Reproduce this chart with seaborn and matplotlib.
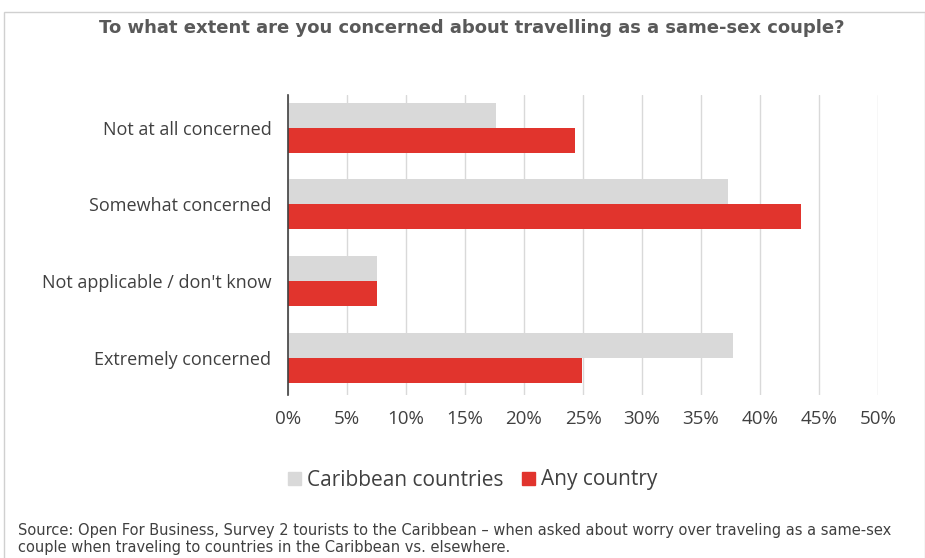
import matplotlib
matplotlib.use("Agg")
import matplotlib.pyplot as plt
from matplotlib.patches import Rectangle
from matplotlib.ticker import FuncFormatter, MultipleLocator
import pandas as pd
import seaborn as sns

categories = ["Not at all concerned", "Somewhat concerned",
              "Not applicable / don't know", "Extremely concerned"]
caribbean = [17.6, 37.3, 7.5, 37.7]
any_country = [24.3, 43.5, 7.5, 24.9]
series_names = ["Caribbean countries", "Any country"]
colors = ["#D9D9D9", "#E1342D"]

title = "To what extent are you concerned about travelling as a same-sex couple?"
source = ("Source: Open For Business, Survey 2 tourists to the Caribbean \u2013 when asked about worry over traveling as a same-sex\n"
          "couple when traveling to countries in the Caribbean vs. elsewhere.")

df = pd.DataFrame({
    "category": categories * 2,
    "value": caribbean + any_country,
    "series": [series_names[0]] * 4 + [series_names[1]] * 4,
})

sns.set_theme(style="white")
plt.rcParams["font.family"] = ["Open Sans", "DejaVu Sans"]

W, H = 925, 558
fig = plt.figure(figsize=(W / 100, H / 100), dpi=100)
ax = fig.add_axes([288 / W, 1 - 395 / H, (878 - 288) / W, (395 - 95) / H])

sns.barplot(data=df, x="value", y="category", hue="series", order=categories,
            hue_order=series_names, palette=colors, orient="h", width=0.652,
            saturation=1, linewidth=0, ax=ax, legend=False)

ax.set_xlim(0, 50)
ax.set_ylim(3.487, -0.426)
ax.xaxis.set_major_locator(MultipleLocator(5))
ax.xaxis.set_major_formatter(FuncFormatter(lambda v, p: f"{v:.0f}%"))
ax.grid(axis="x", color="#D9D9D9", linewidth=1)
ax.set_axisbelow(True)
for s in ["top", "right", "bottom"]:
    ax.spines[s].set_visible(False)
ax.spines["left"].set_color("#404040")
ax.spines["left"].set_linewidth(1.2)
ax.set_xlabel("")
ax.set_ylabel("")
ax.tick_params(axis="x", length=0, pad=11, labelsize=13.5, labelcolor="#404040")
ax.tick_params(axis="y", length=0, pad=12, labelsize=13, labelcolor="#404040")

handles = [Rectangle((0, 0), 1, 1, color=c) for c in colors]
fig.legend(handles, series_names, loc="center", bbox_to_anchor=(473 / W, 1 - 480 / H),
           ncol=2, frameon=False, fontsize=15, handlelength=0.6, handleheight=0.6,
           handletextpad=0.3, columnspacing=0.9, labelcolor="#404040")

fig.text(472 / W, 1 - 28 / H, title, ha="center", va="center", fontsize=13,
         fontweight="semibold", color="#595959", family=["Liberation Sans Narrow", "DejaVu Sans"])
fig.text(18 / W, 1 - 539 / H, source, ha="left", va="center", fontsize=10.5,
         color="#404040", linespacing=1.1, family=["Liberation Sans Narrow", "DejaVu Sans"])

fig.patches.append(Rectangle((4 / W, -0.01), (W - 4) / W, 1 - 12 / H + 0.01,
                             transform=fig.transFigure, fill=False,
                             edgecolor="#D0D0D0", linewidth=1))

fig.savefig("out.png", dpi=100)
